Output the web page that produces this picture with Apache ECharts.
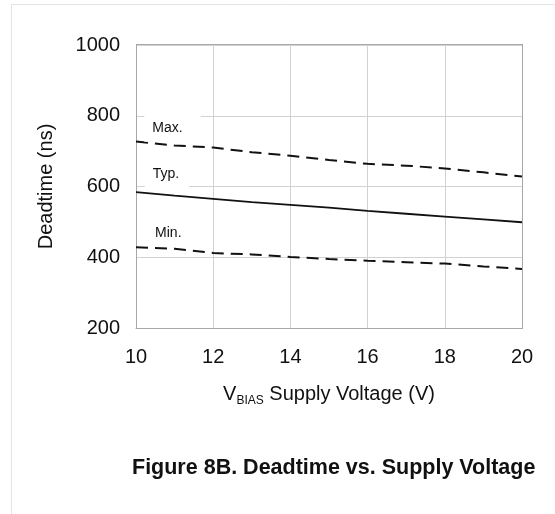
<!DOCTYPE html>
<html lang="en">
<head>
    <meta charset="UTF-8">
    <title>Deadtime vs. Supply Voltage</title>
    <script src="https://cdn.jsdelivr.net/npm/echarts@6/dist/echarts.min.js"></script>
    <style>
        html, body, #main {
            width: 100%;
            height: 100%;
            padding: 0;
            margin: 0;
            background: #fff;
        }
    </style>
</head>
<body>
<div id="main"></div>
<script>
    // supply voltage (V)
    var voltage = [10, 11, 12, 13, 14, 15, 16, 17, 18, 19, 20];
    // deadtime (ns)
    var maxDead = [727, 716, 710, 697, 687, 675, 664, 659, 651, 640, 628];
    var typDead = [584, 574, 565, 556, 548, 540, 531, 523, 515, 507, 499];
    var minDead = [428, 424, 412, 408, 401, 395, 390, 386, 382, 374, 367];
    var xTicks = [10, 12, 14, 16, 18, 20];
    var yTicks = [200, 400, 600, 800, 1000];

    function pairs(ys) {
        return voltage.map(function (v, i) { return [v, ys[i]]; });
    }

    var font = 'Liberation Sans, Arial, sans-serif';

    // curve name written next to the line, white box hides the grid under it
    function tag(text, x, y, pad) {
        return {
            symbol: 'circle',
            symbolSize: 1,
            itemStyle: { color: 'rgba(0,0,0,0)' },
            data: [{ coord: [x, y], value: text }],
            label: {
                show: true,
                position: 'inside',
                formatter: text,
                color: '#111',
                fontSize: 14,
                lineHeight: 16,
                fontFamily: font,
                backgroundColor: '#fff',
                padding: pad
            }
        };
    }

    var myChart = echarts.init(document.getElementById('main'));
    myChart.setOption({
        animation: false,
        grid: { left: 136, top: 45, right: 33, bottom: 186 },
        xAxis: {
            type: 'value',
            min: xTicks[0],
            max: xTicks[xTicks.length - 1],
            interval: 2,
            name: '{v|V}{sub|BIAS}{v| Supply Voltage (V)}',
            nameLocation: 'middle',
            nameGap: 53,
            nameTextStyle: {
                rich: {
                    v: { fontSize: 20, fontFamily: font, color: '#111' },
                    sub: { fontSize: 12, fontFamily: font, color: '#111', verticalAlign: 'bottom', padding: [14, 0, 0, 0] }
                }
            },
            axisLine: { show: true, lineStyle: { color: '#a8a8a8', width: 1 } },
            axisTick: { show: false },
            axisLabel: { fontSize: 20, fontFamily: font, color: '#111', margin: 19 },
            splitLine: { show: true, lineStyle: { color: '#d2d2d2', width: 1 } }
        },
        yAxis: {
            type: 'value',
            min: yTicks[0],
            max: yTicks[yTicks.length - 1],
            interval: 200,
            name: 'Deadtime (ns)',
            nameLocation: 'middle',
            nameGap: 80,
            nameTextStyle: { fontSize: 20, fontFamily: font, color: '#111' },
            axisLine: { show: true, lineStyle: { color: '#a8a8a8', width: 1 } },
            axisTick: { show: false },
            axisLabel: {
                fontSize: 20, fontFamily: font, color: '#111', margin: 16,
                formatter: function (v) { return String(v); }
            },
            splitLine: { show: true, lineStyle: { color: '#d2d2d2', width: 1 } }
        },
        graphic: [
            { type: 'rect', silent: true, z: 100,
              shape: { x: 522, y: 45, width: 1, height: 284 }, style: { fill: '#a8a8a8' } },
            { type: 'rect', silent: true, z: 100,
              shape: { x: 136, y: 44, width: 387, height: 1 }, style: { fill: '#a8a8a8' } },
            { type: 'line', silent: true,
              shape: { x1: 11.5, y1: 4.5, x2: 555, y2: 4.5 }, style: { stroke: '#e4e4e4', lineWidth: 1 } },
            { type: 'line', silent: true,
              shape: { x1: 11.5, y1: 4.5, x2: 11.5, y2: 514 }, style: { stroke: '#e4e4e4', lineWidth: 1 } },
            { type: 'text', left: 132, top: 457,
              style: { text: 'Figure 8B. Deadtime vs. Supply Voltage', fontSize: 21.5, fontWeight: 'bold', fontFamily: font, fill: '#111' } }
        ],
        series: [
            {
                type: 'line', data: pairs(maxDead), symbol: 'none', z: 3,
                lineStyle: { color: '#111', width: 2, type: [12, 7] },
                markPoint: tag('Max.', 10.946, 764.4, [8, 18, 3, 8])
            },
            {
                type: 'line', data: pairs(typDead), symbol: 'none', z: 3,
                lineStyle: { color: '#111', width: 1.8 },
                markPoint: tag('Typ.', 10.803, 635, [3, 10, 8, 8])
            },
            {
                type: 'line', data: pairs(minDead), symbol: 'none', z: 3,
                lineStyle: { color: '#111', width: 2, type: [12, 7] },
                markPoint: tag('Min.', 10.837, 469.5, [4, 8, 4, 8])
            }
        ]
    });
</script>
</body>
</html>
